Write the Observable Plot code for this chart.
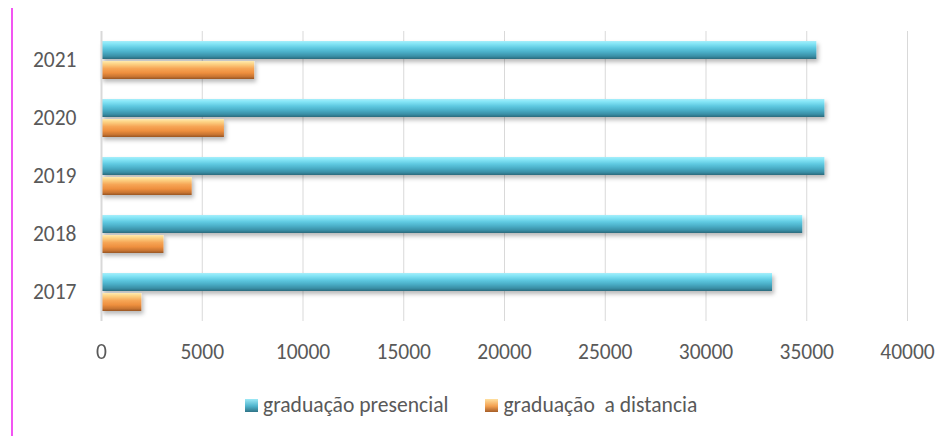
<!DOCTYPE html>
<html>
<head>
<meta charset="utf-8">
<script src="https://cdn.jsdelivr.net/npm/d3@7"></script>
<script src="https://cdn.jsdelivr.net/npm/@observablehq/plot@0.6"></script>
<style>
  html, body { margin: 0; padding: 0; background: #fff; }
  #wrap { position: relative; width: 941px; height: 436px; font-family: Carlito, Lato, sans-serif; color: #595959; }
  #bar-edge { position: absolute; left: 11px; top: 8px; width: 2px; height: 428px; background: #f255f2; }
  #legend { position: absolute; top: 392px; left: 245px; display: flex; align-items: center; font-size: 21.6px; line-height: 26px; white-space: pre; }
  .item { display: flex; align-items: center; }
  .sw { width: 13px; height: 13px; margin-right: 5px; }
</style>
</head>
<body>
<div id="wrap">
  <div id="bar-edge"></div>
  <div id="chart"></div>
  <div id="legend"></div>
</div>
<script>
// Data
const years = ["2017", "2018", "2019", "2020", "2021"];
const seriesNames = ["graduação presencial", "graduação  a distancia"];
const presencial = [33300, 34800, 35900, 35900, 35500];
const distancia = [2000, 3100, 4500, 6100, 7600];
const xTicks = [0, 5000, 10000, 15000, 20000, 25000, 30000, 35000, 40000];

const rows = [];
years.forEach((y, i) => {
  rows.push({year: y, series: seriesNames[0], value: presencial[i]});
  rows.push({year: y, series: seriesNames[1], value: distancia[i]});
});

const fills = {[seriesNames[0]]: "url(#gradP)", [seriesNames[1]]: "url(#gradD)"};

const chart = Plot.plot({
  width: 941,
  height: 375,
  marginLeft: 101,
  marginRight: 34,
  marginTop: 30,
  marginBottom: 53,
  style: {fontFamily: "Carlito, Lato, sans-serif", fontSize: "21.5px", color: "#595959", background: "transparent"},
  x: {domain: [0, 40000], ticks: xTicks, tickFormat: d => String(d)},
  fy: {domain: years.slice().reverse(), padding: 0, label: null},
  y: {domain: seriesNames, paddingInner: 0.1, paddingOuter: 0.5, axis: null},
  marks: [
    Plot.gridX(xTicks, {stroke: "#d9d9d9", strokeOpacity: 1, strokeWidth: 1}),
    Plot.barX(rows, {fy: "year", y: "series", x: "value", fill: d => fills[d.series]}),
    Plot.ruleX([0], {stroke: "#d9d9d9", strokeWidth: 2}),
    Plot.axisX(xTicks, {tickSize: 0, tickPadding: 22, label: null, tickFormat: d => String(d), fill: "#595959"}),
    Plot.axisFy({anchor: "left", tickSize: 0, tickPadding: 25, label: null, fill: "#595959"})
  ]
});

// gradient + shadow definitions for the beveled bar look
const ns = "http://www.w3.org/2000/svg";
const defs = document.createElementNS(ns, "defs");
defs.innerHTML = `
  <linearGradient id="gradP" x1="0" y1="0" x2="0" y2="1">
    <stop offset="0" stop-color="#a7eefa"/>
    <stop offset="0.14" stop-color="#86e6f7"/>
    <stop offset="0.4" stop-color="#5ec8e0"/>
    <stop offset="0.62" stop-color="#4aaec7"/>
    <stop offset="0.85" stop-color="#3a8ea5"/>
    <stop offset="1" stop-color="#2a6a7c"/>
  </linearGradient>
  <linearGradient id="gradD" x1="0" y1="0" x2="0" y2="1">
    <stop offset="0" stop-color="#ffeab0"/>
    <stop offset="0.16" stop-color="#fdd384"/>
    <stop offset="0.42" stop-color="#f6a556"/>
    <stop offset="0.66" stop-color="#ee8f3e"/>
    <stop offset="0.86" stop-color="#c97431"/>
    <stop offset="1" stop-color="#985626"/>
  </linearGradient>
  <filter id="shadow" x="-5%" y="-30%" width="110%" height="180%">
    <feDropShadow dx="2" dy="3" stdDeviation="2" flood-color="#000" flood-opacity="0.28"/>
  </filter>`;
chart.insertBefore(defs, chart.firstChild);
chart.querySelectorAll('g[aria-label="bar"]').forEach(g => g.setAttribute("filter", "url(#shadow)"));

document.getElementById("chart").appendChild(chart);

// legend below the chart
const legend = document.getElementById("legend");
const swFills = ["linear-gradient(#9de9f6, #4fb3cc 55%, #2f7487)", "linear-gradient(#ffe0a0, #f3a050 55%, #a65e28)"];
seriesNames.forEach((name, i) => {
  const item = document.createElement("div");
  item.className = "item";
  if (i > 0) item.style.marginLeft = "37px";
  const sw = document.createElement("div");
  sw.className = "sw";
  sw.style.background = swFills[i];
  const label = document.createElement("span");
  label.textContent = name;
  item.appendChild(sw);
  item.appendChild(label);
  legend.appendChild(item);
});
</script>
</body>
</html>
